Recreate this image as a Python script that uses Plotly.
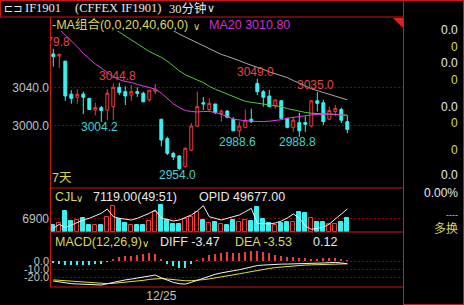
import plotly.graph_objects as go

# ---------------- data ----------------
bar_index = list(range(50))
opens = [3074.5, 3072.5, 3067.0, 3032.8, 3029.7, 3033.0, 3028.6, 3016.5, 3019.0, 3016.5,
         3020.0, 3040.0, 3035.5, 3032.0, 3035.5, 3033.8, 3027.0, 3036.0, 3007.0, 2987.0,
         2971.7, 2969.0, 2958.0, 2975.0, 3000.0, 3024.0, 3017.0, 3022.8, 3013.0, 3015.5,
         3007.0, 2995.0, 2998.6, 3007.0, 3044.0, 3035.5, 3031.0, 3020.7, 3026.0, 3008.0,
         2998.6, 3003.4, 3003.5, 3000.0, 3026.0, 3024.0, 3007.0, 3015.0, 3017.0, 3004.5]
highs = [3079.8, 3075.0, 3067.5, 3037.0, 3038.0, 3035.5, 3028.6, 3024.0, 3020.7, 3038.0,
         3044.0, 3044.8, 3041.0, 3042.4, 3040.0, 3035.5, 3037.0, 3043.5, 3007.0, 2989.0,
         2973.4, 2970.0, 2978.0, 3003.0, 3035.5, 3030.0, 3028.6, 3022.8, 3017.0, 3016.5,
         3009.0, 3004.5, 3017.0, 3018.0, 3049.0, 3037.2, 3037.2, 3027.0, 3027.0, 3008.0,
         3009.7, 3013.8, 3010.0, 3027.0, 3035.0, 3027.0, 3020.0, 3021.7, 3019.0, 3011.0]
lows = [3061.4, 3060.0, 3026.0, 3023.0, 3023.0, 3012.4, 3016.5, 3011.0, 3004.2, 3006.0,
        3006.0, 3032.0, 3021.7, 3026.0, 3030.0, 3024.5, 3025.0, 3033.0, 2979.0, 2970.0,
        2964.8, 2954.0, 2957.0, 2974.0, 2998.6, 3016.5, 3015.0, 3012.4, 3004.5, 3008.0,
        2995.0, 2988.6, 2997.6, 3003.0, 3032.0, 3020.0, 3020.0, 3018.0, 3007.0, 2997.6,
        2994.0, 2988.8, 2994.0, 2998.6, 3015.0, 3001.0, 3006.0, 3010.0, 3003.0, 2992.4]
closes = [3071.7, 3074.0, 3031.0, 3028.6, 3032.8, 3029.7, 3017.0, 3019.0, 3016.0, 3033.8,
          3040.0, 3034.5, 3031.0, 3035.5, 3033.8, 3025.0, 3037.0, 3038.0, 2985.5, 2971.7,
          2968.0, 2956.0, 2977.0, 3000.0, 3020.0, 3022.8, 3023.4, 3013.8, 3015.5, 3009.0,
          2995.0, 3000.0, 3006.0, 3004.5, 3035.5, 3029.7, 3020.0, 3027.0, 3008.0, 2998.6,
          3006.0, 2995.0, 3001.7, 3026.0, 3023.4, 3004.5, 3016.0, 3018.0, 3006.0, 2996.5]

ma20 = [3106, 3100, 3094, 3089, 3082, 3075, 3069, 3064, 3060, 3055,
        3051, 3048, 3046, 3045, 3043, 3041.5, 3040, 3038, 3034, 3028,
        3023, 3019, 3016, 3015, 3014.5, 3015, 3015, 3014, 3012, 3010,
        3007, 3006, 3005.5, 3005, 3004.5, 3004.5, 3005, 3005.5, 3006.5, 3008,
        3009, 3010, 3011, 3011.5, 3012, 3012.3, 3012.3, 3012, 3011.5, 3010.8]
ma40 = [3140, 3137, 3134, 3131, 3128, 3124, 3120, 3115, 3110, 3105,
        3101, 3097, 3093, 3089, 3085, 3081, 3077, 3074, 3071, 3067,
        3062, 3057, 3053, 3050, 3047.5, 3045, 3041, 3038, 3035.5, 3033,
        3030, 3028, 3025.5, 3024.5, 3023.5, 3022.7, 3022, 3021, 3020, 3018,
        3016.5, 3015.3, 3014, 3013.3, 3012.8, 3012.4, 3012, 3011.8, 3011.5, 3011.3]
ma60 = [3150, 3148, 3146, 3144, 3141, 3138, 3135, 3132, 3129, 3126,
        3123, 3120, 3117, 3114, 3111, 3108, 3106, 3104, 3102, 3100,
        3098.5, 3095, 3092, 3089, 3086, 3083, 3080, 3077, 3074, 3072,
        3070, 3067.5, 3065, 3063, 3061, 3058.5, 3056, 3054, 3052, 3050,
        3047, 3044.5, 3041.5, 3038.5, 3036.5, 3034.5, 3032.5, 3030.5, 3028.5, 3027]

volume = [3450, 4640, 10670, 5500, 6030, 7200, 3450, 3800, 3800, 7580,
          13250, 6900, 4840, 3800, 3450, 3450, 5500, 10300, 13760, 6030,
          4330, 4330, 6900, 7730, 10300, 6030, 4840, 5150, 4330, 3450,
          6030, 5150, 6030, 5500, 12900, 6900, 4840, 3450, 4840, 5150,
          5150, 10300, 10000, 7400, 5150, 5150, 4330, 4330, 5150, 7119]
open_interest = [46782, 47382, 46872, 47277, 47682, 48027, 48282, 48672, 49032, 49677,
                 48522, 48282, 48132, 48027, 48282, 48627, 49032, 49527, 48282, 48132,
                 47877, 48027, 48372, 48777, 49377, 50172, 48522, 48282, 48027, 48282,
                 48522, 48777, 49272, 49782, 47532, 47502, 47427, 47577, 47877, 48327,
                 48927, 48327, 47127, 46632, 46752, 46932, 47427, 48177, 48927, 49677]

diff = [-25, -26.2, -27.5, -28.3, -28.7, -28.9, -29.4, -29.8, -30, -28.4,
        -26.7, -24.9, -23.6, -22.6, -21.3, -19.7, -18.2, -17.5, -21, -24,
        -26.7, -28.4, -28.9, -26.7, -24, -21.4, -18.8, -16.6, -14.9, -13.1,
        -12.2, -10.9, -9.2, -7, -5.7, -5.1, -4.5, -4.2, -3.9, -3.8,
        -3.7, -3.6, -3.5, -3.3, -2.9, -2.5, -2.1, -1.8, -2.5, -3.47]
dea = [-23.6, -24.2, -24.9, -25.6, -26.2, -26.7, -27.2, -27.7, -28.2, -28.3,
       -27.9, -27.3, -26.8, -25.9, -25.1, -24.2, -23, -22, -21.9, -22.5,
       -23.3, -24.1, -24.7, -24.6, -24.3, -23.3, -22.4, -21.3, -20, -18.6,
       -17.3, -16, -14.6, -13.1, -11.7, -10.4, -9.3, -8.2, -7.4, -6.6,
       -6, -5.5, -5.1, -4.8, -4.5, -4.2, -3.9, -3.7, -3.55, -3.53]
macd_hist = [-2.8, -4.2, -5.4, -5.4, -5.1, -4.4, -4.4, -4.2, -3.7, -0.35,
             2.5, 4.7, 6.3, 6.6, 7.7, 8.9, 9.6, 8.9, 1.8, -3.2,
             -6.8, -8.8, -8.4, -4.2, 0.5, 3.7, 7.2, 9.3, 10.2, 10.9,
             10.2, 10.2, 10.9, 12.2, 12.1, 10.7, 9.5, 8.1, 6.8, 5.6,
             4.6, 3.9, 3.2, 2.8, 3.0, 3.2, 3.2, 3.2, 1.4, 0.12]

price_ticks = [3000, 3040]
price_ticktext = ["3000.0", "3040.0"]
vol_ticks = [6900]
vol_ticktext = ["6900"]
macd_ticks = [0, -10, -20]
macd_ticktext = ["0.0", "-10.0", "-20.0"]
date_ticks = [18]
date_ticktext = ["12/25"]

# marked extremes: (bar index, value)
high_marks = [(0, 3079.8), (11, 3044.8), (34, 3049.0), (44, 3035.0)]
low_marks = [(8, 3004.2), (21, 2954.0), (31, 2988.6), (41, 2988.8)]

# ---------------- styling ----------------
W, H = 464, 305
BG = "#000000"
UP = "#f03c3c"
DOWN = "#3cf0f0"
FRAME = "#c81818"
GRID = "#8c0000"
GRAYTXT = "#c0c0c0"
YEL = "#d8d860"
WHITE = "#e8e8e8"
MAG = "#e040e0"
FONT = "Liberation Sans, Arial, Noto Sans CJK SC"
CJK = "Liberation Sans, Noto Sans CJK SC"


def px(x):
    return x / W


def py(y):
    return 1 - y / H


XR = [-0.55, 58.28]
XDOM = [px(50), px(403)]

fig = go.Figure()

# candles
fig.add_trace(go.Candlestick(
    x=bar_index, open=opens, high=highs, low=lows, close=closes,
    increasing=dict(line=dict(color=UP, width=1), fillcolor=BG),
    decreasing=dict(line=dict(color=DOWN, width=1), fillcolor=DOWN),
    whiskerwidth=0, xaxis="x", yaxis="y", hoverinfo="skip"))

# moving averages
for series, col in ((ma60, "#a8a8a8"), (ma40, "#50c83c"), (ma20, MAG)):
    fig.add_trace(go.Scatter(x=bar_index, y=series, mode="lines",
                             line=dict(color=col, width=1), xaxis="x", yaxis="y",
                             hoverinfo="skip"))

# high / low marks
fig.add_trace(go.Scatter(
    x=[i - 0.33 for i, _ in high_marks], y=[v for _, v in high_marks],
    mode="text", text=[f"{v:.1f}" for _, v in high_marks],
    textposition="top center", textfont=dict(color="#e04848", size=12, family=FONT),
    cliponaxis=True, xaxis="x", yaxis="y", hoverinfo="skip"))
fig.add_trace(go.Scatter(
    x=[i - 0.33 for i, _ in low_marks], y=[v for _, v in low_marks],
    mode="text", text=[f"{v:.1f}" for _, v in low_marks],
    textposition="bottom center", textfont=dict(color="#48d0d0", size=12, family=FONT),
    cliponaxis=True, xaxis="x", yaxis="y", hoverinfo="skip"))

# volume
up_flags = [c >= o for o, c in zip(opens, closes)]
fig.add_trace(go.Bar(
    x=bar_index, y=volume, width=0.66,
    marker=dict(color=[BG if u else DOWN for u in up_flags],
                line=dict(color=[UP if u else DOWN for u in up_flags], width=1)),
    xaxis="x2", yaxis="y2", hoverinfo="skip"))
fig.add_trace(go.Scatter(x=bar_index, y=open_interest, mode="lines",
                         line=dict(color="#f0f0f0", width=1),
                         xaxis="x2", yaxis="y4", hoverinfo="skip"))

# MACD
fig.add_trace(go.Bar(
    x=bar_index, y=macd_hist, width=0.17,
    marker=dict(color=[UP if v > 0 else DOWN for v in macd_hist], line=dict(width=0)),
    xaxis="x3", yaxis="y3", hoverinfo="skip"))
fig.add_trace(go.Scatter(x=bar_index, y=dea, mode="lines",
                         line=dict(color="#e8e040", width=1),
                         xaxis="x3", yaxis="y3", hoverinfo="skip"))
fig.add_trace(go.Scatter(x=bar_index, y=diff, mode="lines",
                         line=dict(color="#f4f4f4", width=1),
                         xaxis="x3", yaxis="y3", hoverinfo="skip"))

xcommon = dict(range=XR, domain=XDOM, showgrid=False, zeroline=False,
               showline=False, fixedrange=True)
ycommon = dict(showline=False, zeroline=False, ticks="",
               gridcolor=GRID, griddash="2px,2px", gridwidth=1,
               tickfont=dict(color=GRAYTXT, size=12, family=FONT), fixedrange=True)

fig.update_layout(
    width=W, height=H, margin=dict(l=0, r=0, t=0, b=0),
    paper_bgcolor=BG, plot_bgcolor=BG, showlegend=False, bargap=0,
    xaxis=dict(**xcommon, anchor="y", showticklabels=False,
               rangeslider=dict(visible=False)),
    xaxis2=dict(**xcommon, anchor="y2", showticklabels=False, matches="x"),
    xaxis3=dict(**xcommon, anchor="y3", matches="x", tickvals=date_ticks,
                ticktext=date_ticktext, ticks="",
                tickfont=dict(color=GRAYTXT, size=12, family=FONT)),
    yaxis=dict(**ycommon, domain=[py(188), py(31)], range=[2935.9, 3098.2],
               tickvals=price_ticks, ticktext=price_ticktext),
    yaxis2=dict(**ycommon, domain=[py(232), py(188)], range=[0, 22680],
                tickvals=vol_ticks, ticktext=vol_ticktext),
    yaxis4=dict(overlaying="y2", range=[46227, 52827], visible=False, fixedrange=True),
    yaxis3=dict(showline=False, zeroline=False, ticks="",
                gridcolor=GRID, griddash="2px,2px", gridwidth=1,
                tickfont=dict(color=GRAYTXT, size=11, family=FONT), fixedrange=True,
                domain=[py(287), py(232)], range=[-32.5, 36.25],
                tickvals=macd_ticks, ticktext=macd_ticktext),
)


# frame lines
def hline(y, x0, x1):
    fig.add_shape(type="line", xref="paper", yref="paper", x0=px(x0), x1=px(x1),
                  y0=py(y), y1=py(y), line=dict(color=FRAME, width=1), layer="above")


def vline(x, y0, y1):
    fig.add_shape(type="line", xref="paper", yref="paper", x0=px(x), x1=px(x),
                  y0=py(y0), y1=py(y1), line=dict(color=FRAME, width=1), layer="above")


hline(0.5, 0, 464)
hline(17, 0, 403)
hline(188, 50, 403)
hline(232, 50, 403)
hline(287, 50, 403)
hline(304.5, 403, 464)
vline(50.5, 17, 287)
vline(403.5, 0, 305)
vline(463.5, 0, 305)
vline(0.5, 0, 17)
# red corner marker
fig.add_shape(type="path", xref="paper", yref="paper",
              path=f"M {px(393)} {py(18)} L {px(403)} {py(18)} L {px(403)} {py(28)} Z",
              fillcolor="#e02020", line=dict(width=0), layer="above")


def label(x, y, text, color, size=12, family=FONT, anchor="left"):
    fig.add_annotation(x=px(x), y=py(y), xref="paper", yref="paper", text=text,
                       showarrow=False, xanchor=anchor, yanchor="middle",
                       font=dict(color=color, size=size, family=family),
                       borderpad=0)


# title bar
label(3, 8.5, "⊏⊐", WHITE, 11, "DejaVu Sans")
label(24, 8.5, "IF1901", WHITE, 12.5, "Liberation Serif, Noto Sans CJK SC")
label(74, 8.5, "(CFFEX IF1901)", WHITE, 12.5, "Liberation Serif, Noto Sans CJK SC")
label(168, 8.5, "30分钟", WHITE, 12.5, "Liberation Serif, Noto Sans CJK SC")
label(206, 8.5, "∨", WHITE, 11, "DejaVu Sans")

# indicator headers
label(51, 25, "-MA组合(0,0,20,40,60,0)", YEL, 12.5, CJK)
label(192, 26, "∨", YEL, 10, "DejaVu Sans")
label(208, 25, "MA20 3010.80", "#d030d0", 12.5, CJK)
label(51, 178, "7天", YEL, 12.5, CJK)

label(54, 197, "CJL", YEL, 12.5, CJK)
label(75, 198, "∨", YEL, 10, "DejaVu Sans")
label(92, 197, "7119.00(49:51)", WHITE, 12.5, CJK)
label(198, 197, "OPID 49677.00", WHITE, 12.5, CJK)

label(54, 242, "MACD(12,26,9)", YEL, 12.5, CJK)
label(141, 243, "∨", YEL, 10, "DejaVu Sans")
label(159, 242, "DIFF -3.47", WHITE, 12.5, CJK)
label(234, 242, "DEA -3.53", YEL, 12.5, CJK)
label(312, 242, "0.12", WHITE, 12.5, CJK)

# right info panel
for yy, txt, col in ((30, "0.0", WHITE), (46.7, "0", YEL), (63.3, "0.0", WHITE),
                     (80, "0", YEL), (106.7, "0.0", WHITE), (122.7, "0", YEL),
                     (150, "0", YEL), (175, "0.0", WHITE), (192.7, "0.00%", WHITE),
                     (229, "多换", YEL)):
    label(459, yy, txt, col, 12, CJK, anchor="right")
label(459, 215, "----", YEL, 9, CJK, anchor="right")

fig.write_html("out.html")
